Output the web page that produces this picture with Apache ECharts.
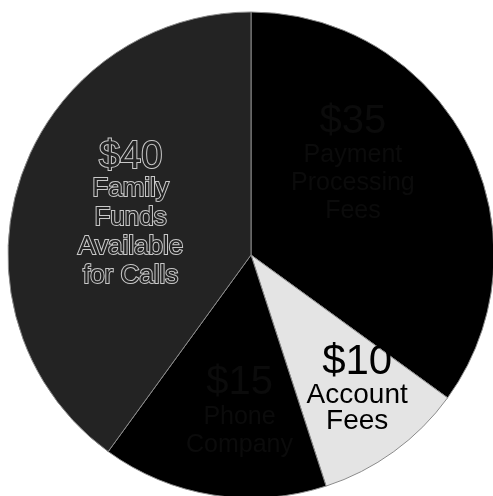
<!DOCTYPE html>
<html>
<head>
<meta charset="utf-8">
<script src="https://cdn.jsdelivr.net/npm/echarts@6/dist/echarts.min.js"></script>
<style>html,body{margin:0;padding:0;background:#fff;}#c{width:493px;height:496px;}</style>
</head>
<body>
<div id="c"></div>
<script>
const categories = ['Payment Processing Fees', 'Account Fees', 'Phone Company', 'Family Funds Available for Calls'];
const values = [35, 10, 15, 40];
const labelLines = [
  ['Payment', 'Processing', 'Fees'],
  ['Account', 'Fees'],
  ['Phone', 'Company'],
  ['Family', 'Funds', 'Available', 'for Calls']
];
const sliceColors = ['#000000', '#e4e4e4', '#000000', '#232323'];
const labelShift = [[-9, -35], [33, 33], [8, 33], [-2, -1]];

const big = [
  {fontSize: 40, lineHeight: 40, color: '#0b0b0b'},
  {fontSize: 42, lineHeight: 40, color: '#000'},
  {fontSize: 40, lineHeight: 40, color: '#0b0b0b'},
  {fontSize: 38, lineHeight: 34, color: '#232323', textBorderColor: '#c8c8c8', textBorderWidth: 2}
];
const small = [
  {fontSize: 25, lineHeight: 28, color: '#0b0b0b'},
  {fontSize: 28, lineHeight: 26, color: '#000'},
  {fontSize: 25, lineHeight: 28, color: '#0b0b0b'},
  {fontSize: 26, lineHeight: 29, color: '#232323', textBorderColor: '#c8c8c8', textBorderWidth: 2}
];

const data = categories.map((name, i) => ({
  name: name,
  value: values[i],
  itemStyle: {color: sliceColors[i]},
  label: {
    formatter: '{a|$' + values[i] + '}\n' + labelLines[i].map(s => '{b|' + s + '}').join('\n'),
    rich: {a: big[i], b: small[i]}
  }
}));

const chart = echarts.init(document.getElementById('c'));
chart.setOption({
  animation: false,
  series: [{
    type: 'pie',
    center: [251, 255],
    radius: [0, 243],
    startAngle: 90,
    clockwise: true,
    avoidLabelOverlap: false,
    itemStyle: {borderColor: '#8a8a8a', borderWidth: 1},
    label: {
      show: true,
      position: 'inside',
      fontFamily: '"Liberation Sans", Arial, sans-serif',
      align: 'center'
    },
    labelLine: {show: false},
    labelLayout: function (p) {
      const s = labelShift[p.dataIndex];
      return {dx: s[0], dy: s[1]};
    },
    data: data
  }]
});
</script>
</body>
</html>
